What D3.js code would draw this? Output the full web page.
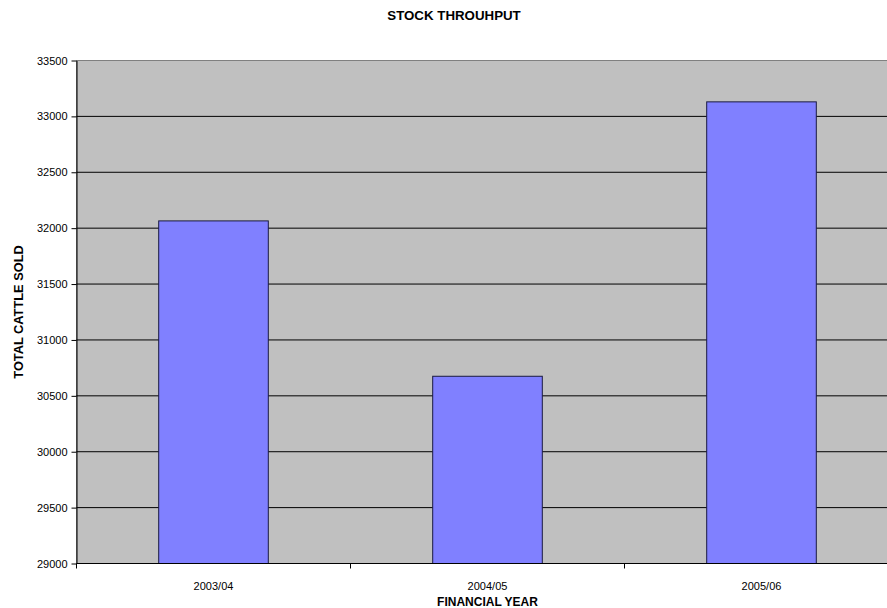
<!DOCTYPE html>
<html>
<head>
<meta charset="utf-8">
<script src="https://cdn.jsdelivr.net/npm/d3@7"></script>
<style>
  html, body { margin: 0; padding: 0; background: #fff; }
  svg { display: block; font-family: "Liberation Sans", Arial, sans-serif; }
</style>
</head>
<body>
<svg id="chart" width="887" height="608"></svg>
<script>
const years = ["2003/04", "2004/05", "2005/06"];
const cattleSold = [32065, 30675, 33130];
const yTicks = [29000, 29500, 30000, 30500, 31000, 31500, 32000, 32500, 33000, 33500];

const margin = { top: 60.5, left: 76.5 };
const innerW = 822;
const innerH = 503;

const svg = d3.select("#chart");

const x = d3.scaleBand().domain(years).range([0, innerW]).paddingInner(0.6).paddingOuter(0.3);
const y = d3.scaleLinear().domain([29000, 33500]).range([innerH, 0]);

const g = svg.append("g").attr("transform", `translate(${margin.left},${margin.top})`);

g.append("rect")
  .attr("width", innerW)
  .attr("height", innerH)
  .attr("fill", "#c0c0c0")
  .attr("stroke", "#808080")
  .attr("stroke-width", 1);

g.append("g")
  .selectAll("line")
  .data(yTicks.slice(1, -1))
  .join("line")
  .attr("x1", 0)
  .attr("x2", innerW)
  .attr("y1", (d) => y(d))
  .attr("y2", (d) => y(d))
  .attr("stroke", "#000")
  .attr("stroke-width", 1);

g.append("g")
  .selectAll("rect")
  .data(years.map((yr, i) => ({ yr, v: cattleSold[i] })))
  .join("rect")
  .attr("x", (d) => x(d.yr))
  .attr("y", (d) => y(d.v))
  .attr("width", x.bandwidth())
  .attr("height", (d) => innerH - y(d.v))
  .attr("fill", "#8080ff")
  .attr("stroke", "#1a1a40")
  .attr("stroke-width", 1);

// y axis
g.append("g")
  .call(d3.axisLeft(y).tickValues(yTicks).tickFormat(d3.format("d")).tickSize(5).tickPadding(4).tickSizeOuter(0))
  .call((a) => a.selectAll("text").attr("font-size", 11).attr("fill", "#000").attr("font-family", "Liberation Sans, Arial, sans-serif"))
  .call((a) => a.selectAll("line,path").attr("stroke", "#000"));

// x axis: ticks between categories
const step = x.step();
g.append("g")
  .attr("transform", `translate(0,${innerH})`)
  .call((a) => a.append("line").attr("x1", 0).attr("x2", innerW).attr("stroke", "#000"))
  .call((a) => a.selectAll(".sep")
    .data(d3.range(0, years.length + 1))
    .join("line")
    .attr("class", "sep")
    .attr("x1", (i) => i * step)
    .attr("x2", (i) => i * step)
    .attr("y1", 0)
    .attr("y2", 5)
    .attr("stroke", "#000"))
  .call((a) => a.selectAll(".lbl")
    .data(years)
    .join("text")
    .attr("class", "lbl")
    .attr("x", (d) => x(d) + x.bandwidth() / 2)
    .attr("y", 26)
    .attr("text-anchor", "middle")
    .attr("font-size", 11)
    .text((d) => d));

svg.append("text")
  .attr("x", 454)
  .attr("y", 20)
  .attr("text-anchor", "middle")
  .attr("font-size", 13.3)
  .attr("font-weight", "bold")
  .text("STOCK THROUHPUT");

svg.append("text")
  .attr("x", margin.left + innerW / 2)
  .attr("y", 606)
  .attr("text-anchor", "middle")
  .attr("font-size", 12)
  .attr("font-weight", "bold")
  .text("FINANCIAL YEAR");

svg.append("text")
  .attr("transform", "translate(23,312) rotate(-90)")
  .attr("text-anchor", "middle")
  .attr("font-size", 12.8)
  .attr("font-weight", "bold")
  .text("TOTAL CATTLE SOLD");
</script>
</body>
</html>
